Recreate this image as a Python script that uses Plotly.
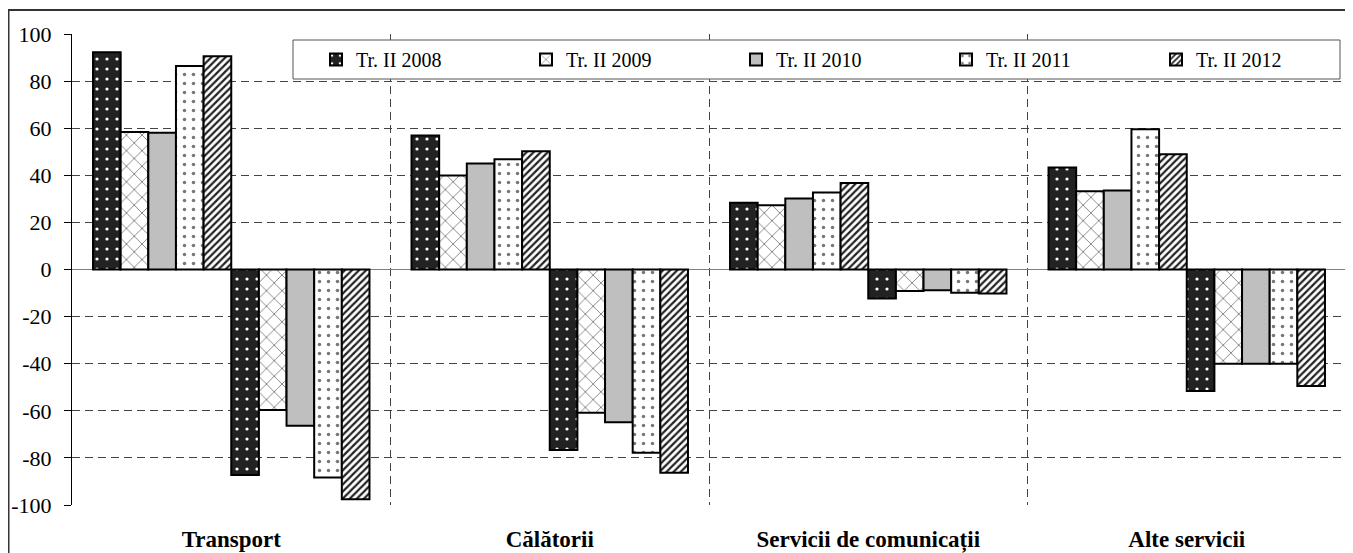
import plotly.graph_objects as go

# The page body adds an 8px margin, so the figure is sized to fill the visible window
OFF = 8
W, H = 1353 - OFF, 553 - OFF

categories = ["Transport", "Călătorii", "Servicii de comunicații", "Alte servicii"]
series_names = ["Tr. II 2008", "Tr. II 2009", "Tr. II 2010", "Tr. II 2011", "Tr. II 2012"]

credit_2008 = [92.3, 56.9, 28.3, 43.3]
credit_2009 = [58.4, 39.9, 27.3, 33.2]
credit_2010 = [58.1, 45.0, 30.1, 33.5]
credit_2011 = [86.4, 46.8, 32.7, 59.6]
credit_2012 = [90.6, 50.2, 36.7, 48.9]

debit_2008 = [-87.3, -76.6, -12.3, -51.6]
debit_2009 = [-59.7, -60.8, -9.1, -40.0]
debit_2010 = [-66.3, -64.9, -8.8, -40.0]
debit_2011 = [-88.3, -77.8, -9.9, -40.0]
debit_2012 = [-97.6, -86.3, -10.2, -49.5]

credit = [credit_2008, credit_2009, credit_2010, credit_2011, credit_2012]
debit = [debit_2008, debit_2009, debit_2010, debit_2011, debit_2012]

y_tick_values = [-100, -80, -60, -40, -20, 0, 20, 40, 60, 80, 100]
y_tick_labels = ["-100", "-80", "-60", "-40", "-20", "0", "20", "40", "60", "80", "100"]

FONT = "Liberation Serif"

styles = [
    dict(color="#222222", pattern=dict(shape=".", bgcolor="#222222", fgcolor="#ffffff",
                                       size=10, solidity=0.08, fillmode="replace")),
    dict(color="#ffffff", pattern=dict(shape="x", bgcolor="#ffffff", fgcolor="#555555",
                                       size=11, solidity=0.12, fillmode="replace")),
    dict(color="#bfbfbf"),
    dict(color="#ffffff", pattern=dict(shape=".", bgcolor="#ffffff", fgcolor="#777777",
                                       size=9, solidity=0.12, fillmode="replace")),
    dict(color="#ffffff", pattern=dict(shape="/", bgcolor="#ffffff", fgcolor="#222222",
                                       size=5, solidity=0.45, fillmode="replace")),
]

fig = go.Figure()
for i, name in enumerate(series_names):
    fig.add_trace(go.Bar(
        x=categories, y=credit[i], name=name, legendgroup=name,
        marker=dict(line=dict(color="#000000", width=2), **styles[i]),
        showlegend=True,
    ))
for i, name in enumerate(series_names):
    fig.add_trace(go.Bar(
        x=categories, y=debit[i], name=name, legendgroup=name,
        marker=dict(line=dict(color="#000000", width=2), **styles[i]),
        showlegend=False,
    ))


def px_x(v):  # window pixel -> paper fraction
    return (v - OFF) / W


def px_y(v):
    return (H - (v - OFF)) / H


fig.update_layout(
    width=W, height=H,
    margin=dict(l=0, r=0, t=0, b=0, autoexpand=False),
    paper_bgcolor="white", plot_bgcolor="white",
    barmode="group", bargap=0.132, bargroupgap=0,
    font=dict(family=FONT, color="#000000", size=20),
    xaxis=dict(
        domain=[px_x(72), px_x(1346)],
        type="category",
        tickson="boundaries",
        showgrid=True, gridcolor="#444444", griddash="8px,5px", gridwidth=1,
        ticks="", showline=False, zeroline=False,
        tickfont=dict(family=FONT, size=23, color="#000000", weight="bold"),
        ticklabelstandoff=18,
        automargin=False,
    ),
    yaxis=dict(
        domain=[px_y(505), px_y(34)],
        range=[-100, 100], tickvals=y_tick_values, ticktext=y_tick_labels,
        showgrid=True, gridcolor="#444444", griddash="8px,5px", gridwidth=1,
        zeroline=True, zerolinecolor="#808080", zerolinewidth=1,
        showline=True, linecolor="#000000", linewidth=1,
        ticks="outside", ticklen=7, tickcolor="#000000",
        tickfont=dict(family=FONT, size=22, color="#000000"),
        ticklabelstandoff=8,
        automargin=False,
    ),
    legend=dict(
        orientation="h",
        x=px_x(316), xanchor="left",
        y=px_y(59.5), yanchor="middle",
        bgcolor="rgba(0,0,0,0)", borderwidth=0,
        entrywidth=165, entrywidthmode="pixels",
        font=dict(family=FONT, size=20, color="#000000"),
        traceorder="normal",
    ),
    shapes=[
        dict(type="rect", xref="paper", yref="paper",
             x0=0.5 / W, x1=px_x(1350), y0=-0.02, y1=px_y(10),
             line=dict(color="#333333", width=2), fillcolor="rgba(0,0,0,0)",
             layer="below"),
        dict(type="rect", xref="paper", yref="paper",
             x0=px_x(293), x1=px_x(1340), y0=px_y(79), y1=px_y(40),
             line=dict(color="#555555", width=1), fillcolor="#ffffff",
             layer="above"),
    ],
)

fig.write_html("out.html")
